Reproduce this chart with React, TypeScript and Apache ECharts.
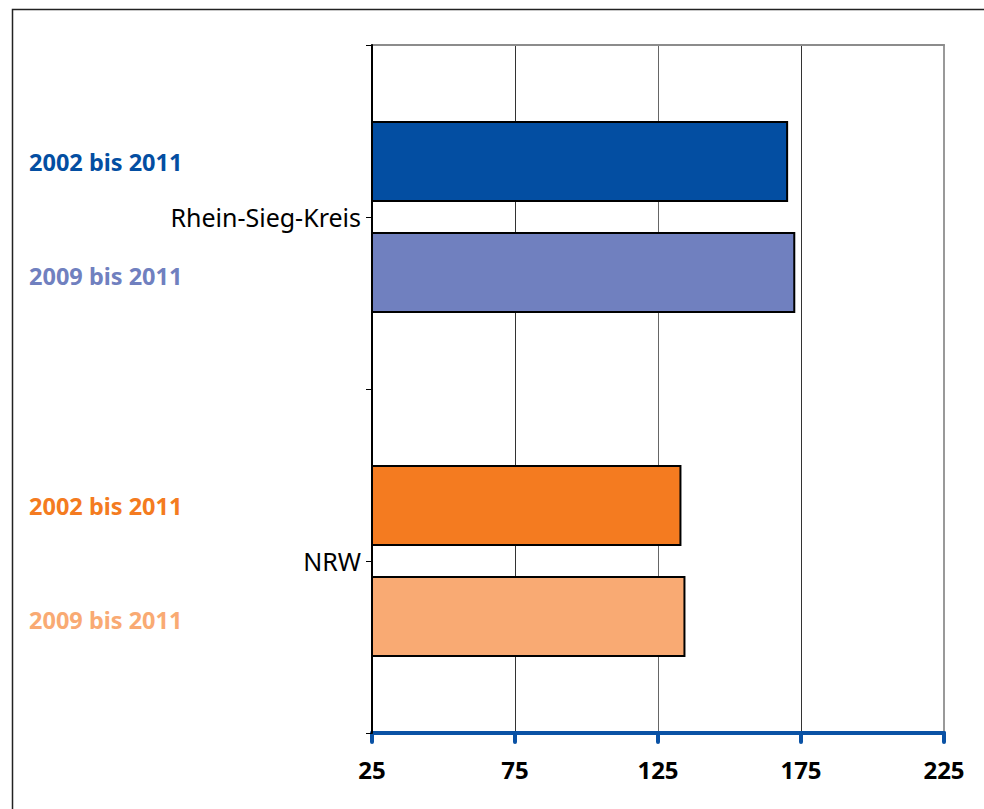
import React, { useEffect, useRef } from "react";
import * as echarts from "echarts";

const categories = ["Rhein-Sieg-Kreis", "NRW"];
const seriesNames = ["2002 bis 2011", "2009 bis 2011"];
const values2002 = [170.5, 133.2];
const values2009 = [173, 134.6];
const colors2002 = ["#034EA2", "#F47B20"];
const colors2009 = ["#7080BF", "#F9AA73"];
const xTicks = { min: 25, max: 225, interval: 50 };

const FONT = "'Noto Sans', 'Open Sans', sans-serif";

function buildSeries(name: string, values: number[], cols: string[], dy: number) {
  return {
    type: "bar",
    name,
    xAxisIndex: 0,
    yAxisIndex: 0,
    barWidth: 81,
    barGap: "37%",
    z: 3,
    data: values.map((v, i) => ({
      value: v,
      itemStyle: { color: cols[i], borderColor: "#000", borderWidth: 2 },
      label: {
        show: true,
        position: [-342, 40 + dy],
        align: "left",
        verticalAlign: "middle",
        formatter: name,
        color: cols[i],
        fontFamily: FONT,
        fontWeight: "bold",
        fontSize: 23.5,
      },
    })),
  };
}

export default function App() {
  const ref = useRef<HTMLDivElement>(null);
  useEffect(() => {
    if (!ref.current) return;
    const chart = echarts.init(ref.current, null, { renderer: "svg" });
    chart.setOption({
      animation: false,
      backgroundColor: "#fff",
      grid: { left: 372, right: 40, top: 45, bottom: 76 },
      graphic: [
        {
          type: "rect",
          shape: { x: 12.5, y: 9.5, width: 1000, height: 900 },
          style: { fill: "none", stroke: "#222", lineWidth: 1.5 },
          silent: true,
        },
      ],
      xAxis: [
        {
          type: "value",
          position: "bottom",
          min: xTicks.min,
          max: xTicks.max,
          interval: xTicks.interval,
          axisLine: { show: true, lineStyle: { color: "#0A52A5", width: 4, cap: "round" } },
          axisTick: { show: true, length: 9, lineStyle: { color: "#0A52A5", width: 4, cap: "round" } },
          axisLabel: {
            color: "#000",
            fontFamily: FONT,
            fontWeight: "bold",
            fontSize: 24,
            margin: 24,
          },
          splitLine: { show: true, lineStyle: { color: ["#000", "#333", "#666", "#333", "#999"], width: 1 } },
        },
        {
          type: "value",
          position: "top",
          min: xTicks.min,
          max: xTicks.max,
          interval: xTicks.interval,
          axisLine: { show: true, lineStyle: { color: "#8c8c8c", width: 2 } },
          axisTick: { show: false },
          axisLabel: { show: false },
          splitLine: { show: false },
        },
      ],
      yAxis: [
        {
          type: "category",
          data: categories,
          inverse: true,
          position: "left",
          axisLine: { show: true, onZero: false, lineStyle: { color: "#000", width: 2 } },
          axisTick: { show: true, length: 6, alignWithLabel: false, lineStyle: { color: "#000", width: 1 } },
          axisLabel: {
            color: "#000",
            fontFamily: FONT,
            fontSize: 25,
            margin: 11,
          },
          splitLine: { show: false },
          z: 6,
        },
        {
          type: "category",
          data: categories,
          inverse: true,
          position: "left",
          axisLine: { show: false },
          axisTick: { show: true, length: 6, alignWithLabel: true, lineStyle: { color: "#000", width: 1 } },
          axisLabel: { show: false },
          splitLine: { show: false },
        },
        {
          type: "category",
          data: categories,
          inverse: true,
          position: "right",
          axisLine: { show: true, onZero: false, lineStyle: { color: "#999", width: 2 } },
          axisTick: { show: false },
          axisLabel: { show: false },
          splitLine: { show: false },
        },
      ],
      series: [
        buildSeries(seriesNames[0], values2002, colors2002, 1),
        buildSeries(seriesNames[1], values2009, colors2009, 4),
      ],
    });
    return () => chart.dispose();
  }, []);
  return (
    <div
      ref={ref}
      style={{ position: "fixed", left: 0, top: 0, width: 984, height: 809 }}
    />
  );
}
